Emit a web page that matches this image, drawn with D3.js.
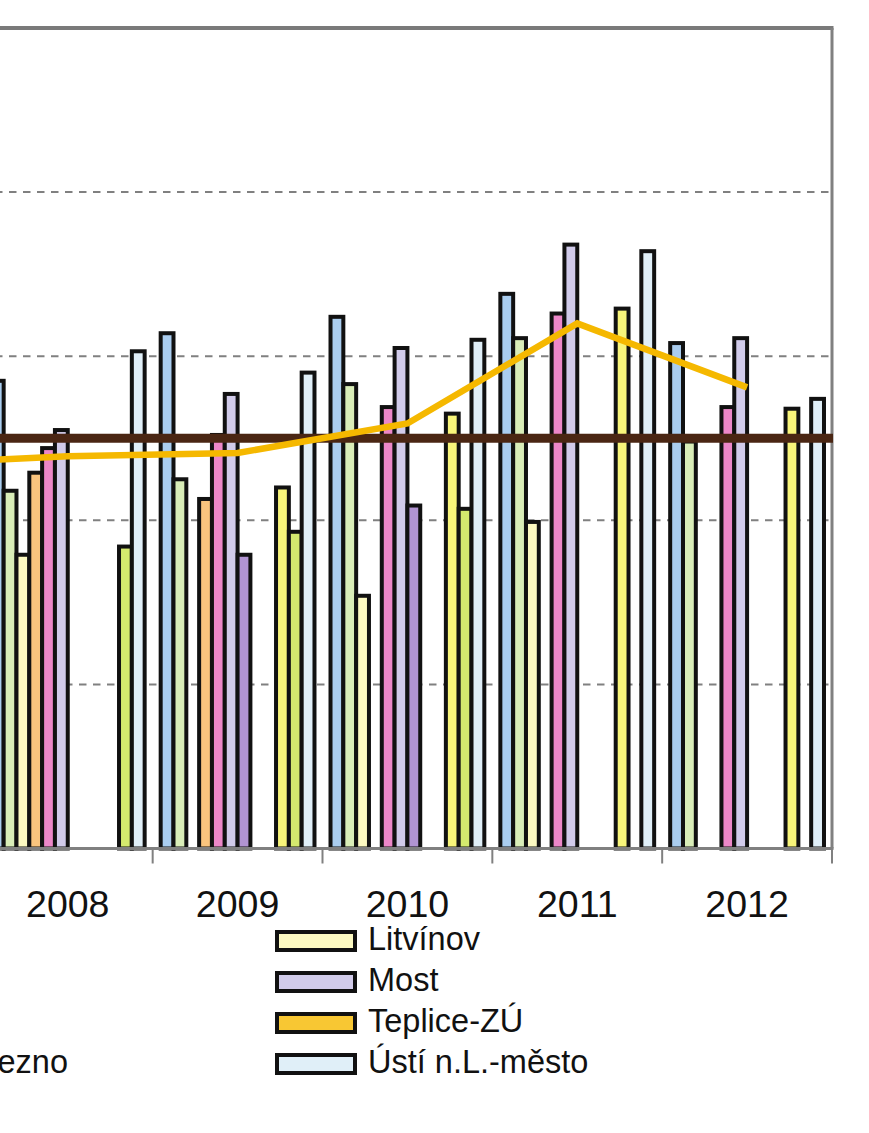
<!DOCTYPE html>
<html>
<head>
<meta charset="utf-8">
<script src="https://cdn.jsdelivr.net/npm/d3@7/dist/d3.min.js"></script>
<style>
  html, body { margin: 0; padding: 0; background: #ffffff; }
  svg { display: block; }
  text { font-family: "Liberation Sans", Arial, sans-serif; fill: #111; }
</style>
</head>
<body>
<div id="chart"></div>
<script>
// ---- data ----
const years = ["2007", "2008", "2009", "2010", "2011", "2012"];
const seriesKeys = ["s0","s1","s2","s3","s4","s5","s6","s7","s8","s9","s10","s11"];
const seriesNames = [null, null, "Litvínov", null, null, "Most", null, null, "Teplice-ZÚ", null, "Březno", "Ústí n.L.-město"];
const seriesColors = ["#aacdef","#d9edb8","#fcf9c1","#f9c47e","#ec87c8","#d1cbea","#b194d2","#cccccc","#f8c733","#f8f57a","#d4e96e","#e0eff8"];
const s0  = [null, 28.5, 31.4, 32.4, 33.8, 30.8];
const s1  = [null, 21.8, 22.5, 28.3, 31.1, 24.8];
const s2  = [null, 17.9, null, 15.4, 19.9, null];
const s3  = [null, 22.9, 21.3, null, null, null];
const s4  = [null, 24.4, 25.2, 26.9, 32.6, 26.9];
const s5  = [null, 25.5, 27.7, 30.5, 36.8, 31.1];
const s6  = [null, null, 17.9, 20.9, null, null];
const s7  = [null, null, null, null, null, null];
const s8  = [null, null, null, null, null, null];
const s9  = [null, null, 22.0, 26.5, 32.9, 26.8];
const s10 = [null, 18.4, 19.3, 20.7, null, null];
const s11 = [null, 30.3, 29.0, 31.0, 36.4, 27.4];
const averageLine = [23.4, 23.9, 24.1, 25.9, 32.0, 28.1];
const limitValue = 25;
const yTicks = [10, 20, 30, 40, 50];

const seriesValues = [s0,s1,s2,s3,s4,s5,s6,s7,s8,s9,s10,s11];

// ---- layout ----
const W = 869, H = 1133;
const plotLeft = -187, plotRight = 832, plotTop = 28, plotBottom = 848.5;

const svg = d3.select("#chart").append("svg").attr("width", W).attr("height", H);
svg.append("rect").attr("width", W).attr("height", H).attr("fill", "#fff");

const x = d3.scaleBand().domain(years).range([plotLeft, plotRight]).padding(0);
const bw = x.bandwidth();
const xs = d3.scaleBand().domain(seriesKeys).range([0, bw]).paddingInner(0).paddingOuter(0.625);
const y = d3.scaleLinear().domain([0, 50]).range([plotBottom, plotTop]);

// gridlines
svg.append("g").selectAll("line").data(yTicks.filter(t => t < 50)).join("line")
  .attr("x1", plotLeft).attr("x2", plotRight)
  .attr("y1", d => y(d)).attr("y2", d => y(d))
  .attr("stroke", "#808080").attr("stroke-width", 2).attr("stroke-dasharray", "7.5,6.5");

// bars
const barData = [];
seriesKeys.forEach((k, si) => {
  years.forEach((yr, yi) => {
    const v = seriesValues[si][yi];
    if (v != null) barData.push({ key: k, year: yr, value: v, color: seriesColors[si] });
  });
});
svg.append("g").selectAll("rect").data(barData).join("rect")
  .attr("x", d => x(d.year) + xs(d.key))
  .attr("width", xs.bandwidth())
  .attr("y", d => y(d.value))
  .attr("height", d => y(0) - y(d.value))
  .attr("fill", d => d.color)
  .attr("stroke", "#111")
  .attr("stroke-width", 4);

// frame: top and right borders
svg.append("line").attr("x1", plotLeft).attr("x2", plotRight + 1.5)
  .attr("y1", plotTop).attr("y2", plotTop).attr("stroke", "#7a7a7a").attr("stroke-width", 4);
svg.append("line").attr("x1", plotRight).attr("x2", plotRight)
  .attr("y1", plotTop).attr("y2", plotBottom).attr("stroke", "#808080").attr("stroke-width", 3);

// limit line
svg.append("line").attr("x1", plotLeft).attr("x2", plotRight + 1)
  .attr("y1", y(limitValue)).attr("y2", y(limitValue))
  .attr("stroke", "#4a2613").attr("stroke-width", 9);

// average line
const line = d3.line().x((d, i) => x(years[i]) + bw / 2).y(d => y(d));
svg.append("path").datum(averageLine).attr("d", line)
  .attr("fill", "none").attr("stroke", "#f5b800").attr("stroke-width", 6.5);

// x axis
const xAxis = d3.axisBottom(x).tickSize(0).tickPadding(0).tickFormat(d => d);
const gx = svg.append("g").attr("transform", `translate(0,${plotBottom})`).call(xAxis);
gx.select(".domain").remove();
gx.selectAll("text").attr("y", 68).attr("dy", null).attr("font-size", 37.5)
  .attr("font-family", "'Liberation Sans', Arial, sans-serif").attr("fill", "#111");
svg.append("line").attr("x1", plotLeft).attr("x2", plotRight + 1.5)
  .attr("y1", plotBottom).attr("y2", plotBottom).attr("stroke", "#808080").attr("stroke-width", 3);
// tick marks at category boundaries
const boundaries = years.map(yr => x(yr)).concat([plotRight]);
svg.append("g").selectAll("line").data(boundaries).join("line")
  .attr("x1", d => d).attr("x2", d => d)
  .attr("y1", plotBottom).attr("y2", plotBottom + 15)
  .attr("stroke", "#808080").attr("stroke-width", 2);

// legend (3 columns, row-major)
const legendItems = seriesKeys.map((k, i) => ({ name: seriesNames[i], color: seriesColors[i], i }))
  .filter(d => d.name);
const colX = [-531, -128, 275];
const rowY0 = 930, rowStep = 41;
const lg = svg.append("g").selectAll("g").data(legendItems).join("g")
  .attr("transform", d => `translate(${colX[d.i % 3]},${rowY0 + Math.floor(d.i / 3) * rowStep})`);
lg.append("rect").attr("x", 2).attr("y", 2).attr("width", 78).attr("height", 18)
  .attr("fill", d => d.color).attr("stroke", "#111").attr("stroke-width", 4);
lg.append("text").attr("x", 93).attr("y", 20).attr("font-size", 32.5).text(d => d.name);
</script>
</body>
</html>
